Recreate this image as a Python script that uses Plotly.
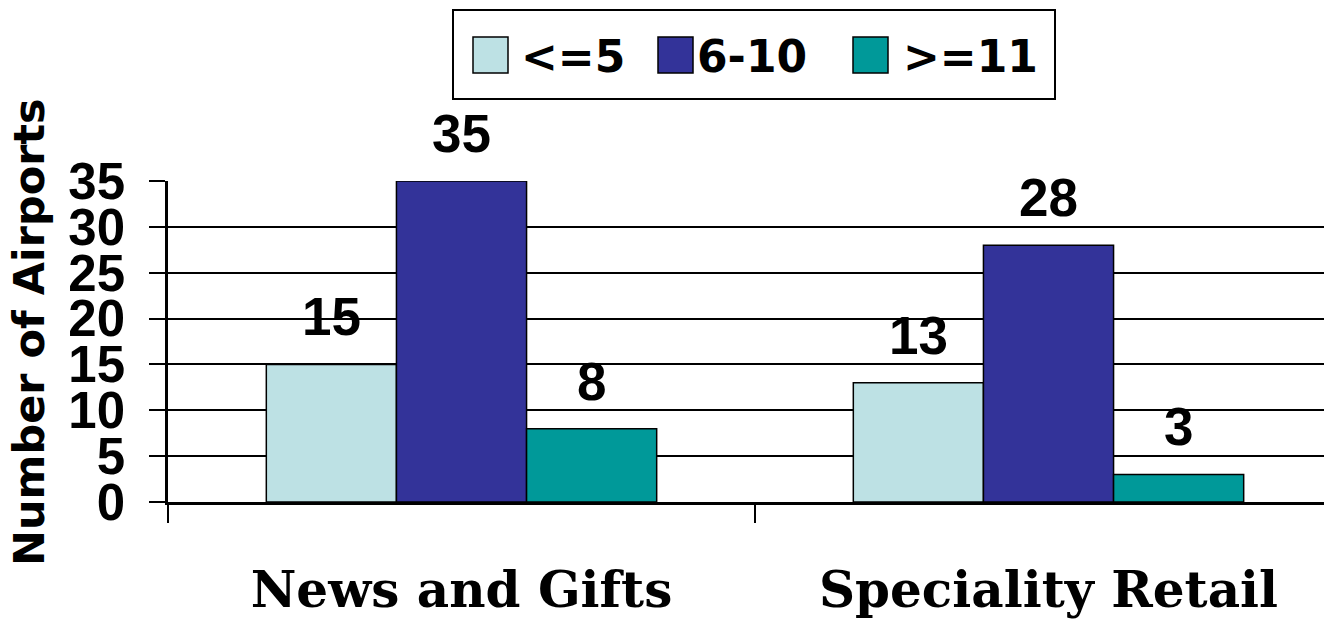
import plotly.graph_objects as go

# Airport retail concessions by number of outlets
categories = ["News and Gifts", "Speciality Retail"]
series_names = ["<=5", "6-10", ">=11"]
values_le5 = [15, 13]
values_6_10 = [35, 28]
values_ge11 = [8, 3]
y_ticks = [0, 5, 10, 15, 20, 25, 30, 35]

series_values = [values_le5, values_6_10, values_ge11]
colors = ["#BDE1E4", "#333399", "#009999"]

W, H = 1324, 626
L, R, T, B = 168, 0, 181, 124
plot_w = W - L - R
plot_h = H - T - B

bargap = 0.335
bar_w = (1 - bargap) / len(series_names)

sans = "Liberation Sans"
verdana = "DejaVu Sans"
serif = "DejaVu Serif"

fig = go.Figure()
for name, vals, col in zip(series_names, series_values, colors):
    fig.add_trace(go.Bar(
        x=categories, y=vals, name=name,
        marker=dict(color=col, line=dict(color="black", width=1.5)),
        showlegend=False,
    ))

# value labels above each bar
annotations = []
for i, vals in enumerate(series_values):
    off = (i - (len(series_names) - 1) / 2) * bar_w
    for j, v in enumerate(vals):
        annotations.append(dict(
            x=j + off, y=v, xref="x", yref="y", text=f"<b>{v}</b>",
            showarrow=False, yanchor="bottom", yshift=16,
            font=dict(family=sans, size=53, color="black"),
        ))

def px_x(p):
    return (p - L) / plot_w

def px_y(p):
    return (H - B - p) / plot_h

# y-axis title
annotations.append(dict(
    x=px_x(29), y=px_y(332), xref="paper", yref="paper",
    text="<b>Number of Airports</b>", textangle=-90, showarrow=False,
    xanchor="center", yanchor="middle",
    font=dict(family=verdana, size=43, color="black"),
))

# legend box with swatches
shapes = [dict(type="rect", xref="paper", yref="paper",
               x0=px_x(453), x1=px_x(1055), y0=px_y(99), y1=px_y(10),
               line=dict(color="black", width=2), fillcolor="white")]
swatch_x = [473, 658, 853]
text_x = [519, 695, 901]
for name, col, sx, tx in zip(series_names, colors, swatch_x, text_x):
    shapes.append(dict(type="rect", xref="paper", yref="paper",
                       x0=px_x(sx), x1=px_x(sx + 35), y0=px_y(73), y1=px_y(37),
                       line=dict(color="black", width=1.5), fillcolor=col))
    annotations.append(dict(
        x=px_x(tx), y=px_y(57), xref="paper", yref="paper",
        text=f"<b>{name}</b>", showarrow=False, xanchor="left", yanchor="middle",
        font=dict(family=verdana, size=44, color="black"),
    ))

fig.update_layout(
    width=W, height=H,
    margin=dict(l=L, r=R, t=T, b=B, pad=0),
    paper_bgcolor="white", plot_bgcolor="white",
    barmode="group", bargap=bargap, bargroupgap=0,
    annotations=annotations, shapes=shapes,
    xaxis=dict(
        type="category", range=[-0.5, 1.5 - 18 / 587],
        tickson="boundaries", ticks="outside", ticklen=18, tickwidth=2,
        tickcolor="black", showline=True, linecolor="black", linewidth=2.5,
        showgrid=False, ticklabelstandoff=42,
        tickfont=dict(family=serif, size=50, color="black", weight="bold"),
    ),
    yaxis=dict(
        range=[0, 35], tickvals=y_ticks, ticks="outside", ticklen=16,
        tickwidth=2, tickcolor="black", showline=True, linecolor="black",
        linewidth=2.5, showgrid=True, gridcolor="black", gridwidth=2,
        zeroline=False, ticklabelstandoff=14,
        tickfont=dict(family=sans, size=51, color="black", weight="bold"),
    ),
    font=dict(family=sans, color="black"),
)

fig.write_html("out.html")
